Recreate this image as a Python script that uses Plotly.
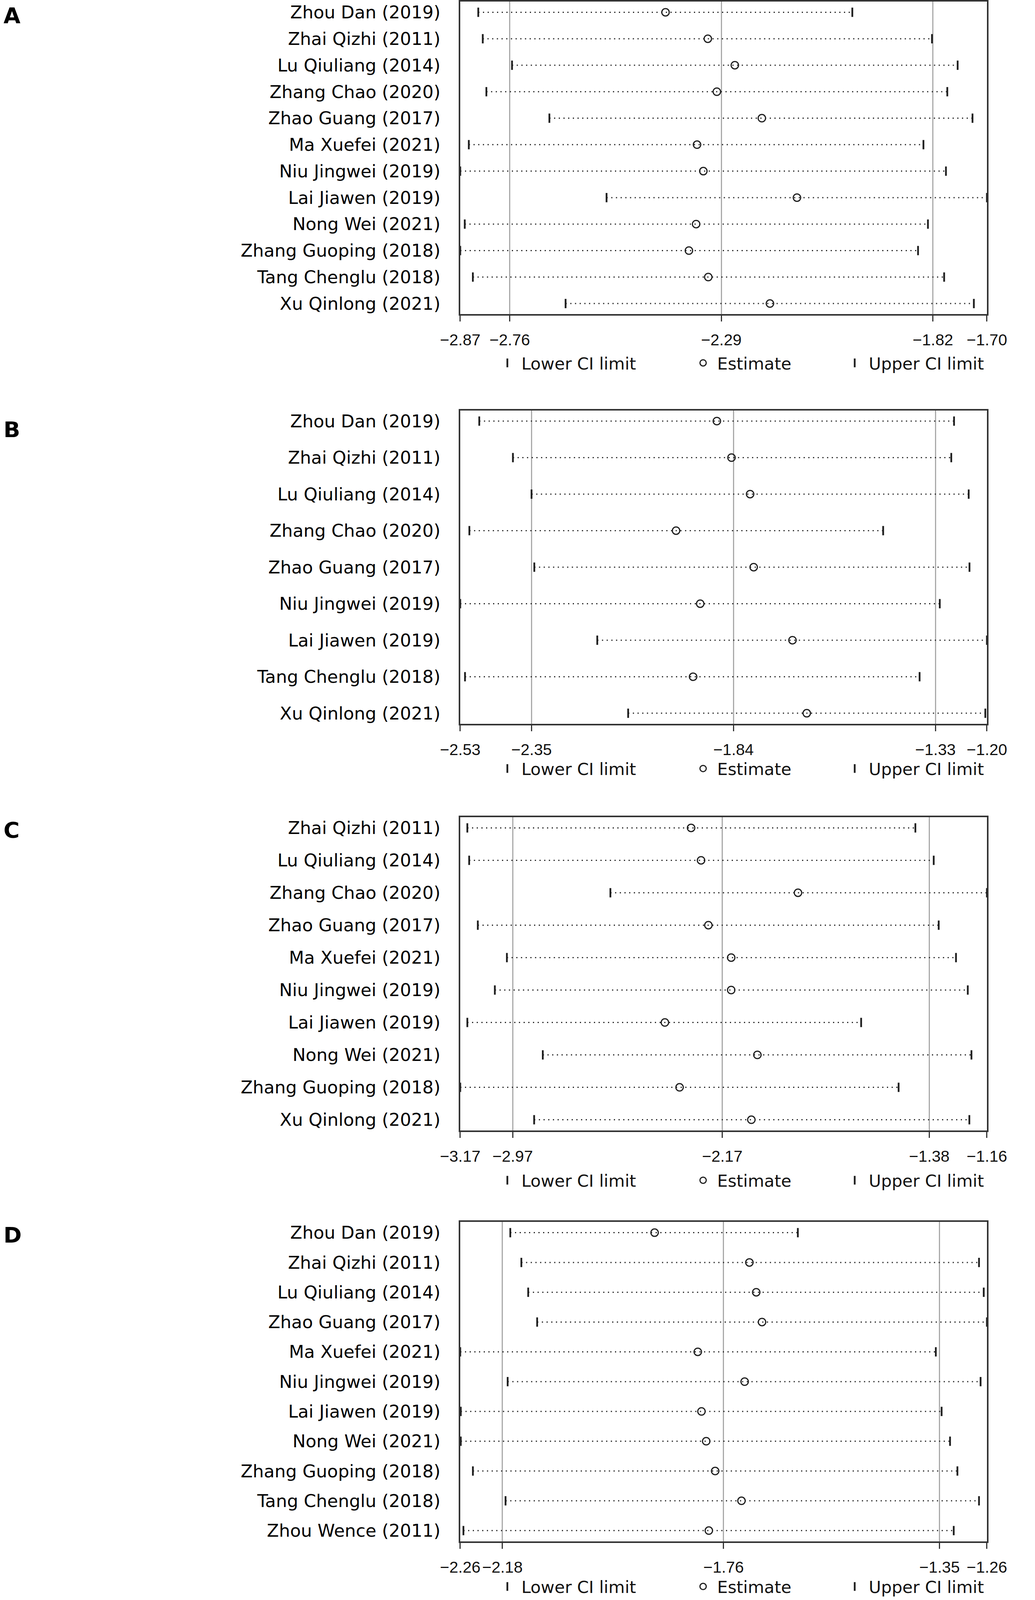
import plotly.graph_objects as go

W, H = 2649, 5522          # reference page size; all positions below are fractions of it
FONT = "DejaVu Sans"
TICK_FONT = "Liberation Sans"

# ---------------- data ----------------
a_studies = ["Zhou Dan (2019)", "Zhai Qizhi (2011)", "Lu Qiuliang (2014)", "Zhang Chao (2020)",
             "Zhao Guang (2017)", "Ma Xuefei (2021)", "Niu Jingwei (2019)", "Lai Jiawen (2019)",
             "Nong Wei (2021)", "Zhang Guoping (2018)", "Tang Chenglu (2018)", "Xu Qinlong (2021)"]
a_lower = [-2.830, -2.820, -2.755, -2.812, -2.672, -2.851, -2.870, -2.545, -2.860, -2.870, -2.842, -2.636]
a_est = [-2.414, -2.320, -2.260, -2.300, -2.200, -2.344, -2.330, -2.122, -2.346, -2.362, -2.319, -2.182]
a_upper = [-1.999, -1.822, -1.765, -1.788, -1.732, -1.841, -1.791, -1.700, -1.831, -1.853, -1.795, -1.729]
a_ticks = [-2.87, -2.76, -2.29, -1.82, -1.70]
a_ticktext = ["−2.87", "−2.76", "−2.29", "−1.82", "−1.70"]

b_studies = ["Zhou Dan (2019)", "Zhai Qizhi (2011)", "Lu Qiuliang (2014)", "Zhang Chao (2020)",
             "Zhao Guang (2017)", "Niu Jingwei (2019)", "Lai Jiawen (2019)", "Tang Chenglu (2018)",
             "Xu Qinlong (2021)"]
b_lower = [-2.482, -2.397, -2.350, -2.507, -2.343, -2.530, -2.184, -2.518, -2.106]
b_est = [-1.882, -1.845, -1.798, -1.985, -1.789, -1.924, -1.691, -1.942, -1.655]
b_upper = [-1.283, -1.290, -1.246, -1.462, -1.244, -1.319, -1.200, -1.370, -1.204]
b_ticks = [-2.53, -2.35, -1.84, -1.33, -1.20]
b_ticktext = ["−2.53", "−2.35", "−1.84", "−1.33", "−1.20"]

c_studies = ["Zhai Qizhi (2011)", "Lu Qiuliang (2014)", "Zhang Chao (2020)", "Zhao Guang (2017)",
             "Ma Xuefei (2021)", "Niu Jingwei (2019)", "Lai Jiawen (2019)", "Nong Wei (2021)",
             "Zhang Guoping (2018)", "Xu Qinlong (2021)"]
c_lower = [-3.143, -3.136, -2.597, -3.103, -2.992, -3.038, -3.143, -2.855, -3.170, -2.888]
c_est = [-2.289, -2.251, -1.881, -2.223, -2.136, -2.136, -2.389, -2.036, -2.333, -2.059]
c_upper = [-1.433, -1.363, -1.160, -1.344, -1.278, -1.233, -1.640, -1.219, -1.497, -1.227]
c_ticks = [-3.17, -2.97, -2.17, -1.38, -1.16]
c_ticktext = ["−3.17", "−2.97", "−2.17", "−1.38", "−1.16"]

d_studies = ["Zhou Dan (2019)", "Zhai Qizhi (2011)", "Lu Qiuliang (2014)", "Zhao Guang (2017)",
             "Ma Xuefei (2021)", "Niu Jingwei (2019)", "Lai Jiawen (2019)", "Nong Wei (2021)",
             "Zhang Guoping (2018)", "Tang Chenglu (2018)", "Zhou Wence (2011)"]
d_lower = [-2.165, -2.144, -2.131, -2.114, -2.260, -2.170, -2.259, -2.259, -2.236, -2.174, -2.254]
d_est = [-1.891, -1.711, -1.698, -1.687, -1.809, -1.720, -1.802, -1.793, -1.776, -1.726, -1.788]
d_upper = [-1.619, -1.275, -1.266, -1.260, -1.357, -1.272, -1.346, -1.330, -1.316, -1.275, -1.323]
d_ticks = [-2.26, -2.18, -1.76, -1.35, -1.26]
d_ticktext = ["−2.26", "−2.18", "−1.76", "−1.35", "−1.26"]

panel_letters = ["A", "B", "C", "D"]
legend_names = ["Lower CI limit", "Estimate", "Upper CI limit"]

panels = [
    (a_studies, a_lower, a_est, a_upper, a_ticks, a_ticktext),
    (b_studies, b_lower, b_est, b_upper, b_ticks, b_ticktext),
    (c_studies, c_lower, c_est, c_upper, c_ticks, c_ticktext),
    (d_studies, d_lower, d_est, d_upper, d_ticks, d_ticktext),
]

# ---------------- layout geometry (in reference page pixels) ----------------
boxes = [(4, 1084), (1416, 2499), (2821, 3903), (4219, 5322)]
legend_y = [1252, 2653, 4075, 5478]
letter_top = [6, 1436, 2818, 4218]
X0, X1 = 1172, 2575
EDGE_PAD = 37

INK = "#1e1e1e"

fig = go.Figure()
layout = dict(autosize=True, margin=dict(l=0, r=0, t=0, b=0),
              paper_bgcolor="white", plot_bgcolor="white",
              font=dict(family=FONT, color="#000"), annotations=[])

for i, (studies, lower, est, upper, ticks, ticktext) in enumerate(panels):
    n = len(studies)
    top, bot = boxes[i]
    step = (bot - top - 2 * EDGE_PAD) / (n - 1)
    pad = EDGE_PAD / step
    sfx = "" if i == 0 else str(i + 1)
    lg = "legend" if i == 0 else f"legend{i + 1}"

    xs, ys = [], []
    for s, lo, up in zip(studies, lower, upper):
        xs += [lo, up, None]
        ys += [s, s, None]
    fig.add_trace(go.Scatter(x=xs, y=ys, mode="lines", xaxis="x" + sfx, yaxis="y" + sfx,
                             line=dict(color="#222222", width=3, dash="3px,9px"),
                             showlegend=False, hoverinfo="skip", cliponaxis=False))
    fig.add_trace(go.Scatter(x=lower, y=studies, mode="markers", name=legend_names[0],
                             xaxis="x" + sfx, yaxis="y" + sfx, legend=lg, legendwidth=424,
                             marker=dict(symbol="line-ns", size=17, color=INK,
                                         line=dict(width=4.5, color=INK)),
                             cliponaxis=False))
    fig.add_trace(go.Scatter(x=est, y=studies, mode="markers", name=legend_names[1],
                             xaxis="x" + sfx, yaxis="y" + sfx, legend=lg, legendwidth=311,
                             marker=dict(symbol="circle-open", size=19, color=INK,
                                         line=dict(width=3, color=INK)),
                             cliponaxis=False))
    fig.add_trace(go.Scatter(x=upper, y=studies, mode="markers", name=legend_names[2],
                             xaxis="x" + sfx, yaxis="y" + sfx, legend=lg,
                             marker=dict(symbol="line-ns", size=17, color=INK,
                                         line=dict(width=4.5, color=INK)),
                             cliponaxis=False))

    layout["xaxis" + sfx] = dict(
        domain=[X0 / W, X1 / W], range=[ticks[0], ticks[-1]], anchor="y" + sfx,
        tickmode="array", tickvals=ticks, ticktext=ticktext, tickangle=0,
        showgrid=True, gridcolor="#a9a9a9", gridwidth=2.5, zeroline=False,
        showline=True, linecolor="#333", linewidth=3.5, mirror=True,
        ticks="outside", ticklen=15, tickwidth=3, tickcolor="#333",
        tickfont=dict(size=41, color="#111", family=TICK_FONT), ticklabelstandoff=12)
    layout["yaxis" + sfx] = dict(
        domain=[1 - bot / H, 1 - top / H], anchor="x" + sfx, type="category",
        categoryorder="array", categoryarray=studies, range=[n - 1 + pad, -pad],
        showgrid=False, zeroline=False, showline=True, linecolor="#333", linewidth=3.5,
        mirror=True, ticks="", tickfont=dict(size=45, color="#000", family=FONT),
        ticklabelstandoff=38)
    layout[lg] = dict(orientation="h", x=1260 / W, xanchor="left",
                      y=1 - legend_y[i] / H, yanchor="middle", itemwidth=62,
                      bgcolor="rgba(0,0,0,0)", font=dict(size=43, color="#111", family=FONT))
    layout["annotations"].append(dict(
        text="<b>" + panel_letters[i] + "</b>", xref="paper", yref="paper",
        x=0, xanchor="left", xshift=-45, y=1 - letter_top[i] / H, yanchor="top",
        showarrow=False, font=dict(size=56, color="#000", family=FONT)))

fig.update_layout(**layout)
fig.write_html(
    "out.html",
    default_width="100vw",
    default_height="100vh",
    config={"displayModeBar": False},
    post_script="document.body.style.margin='0px';document.body.style.overflow='hidden';"
                "Plotly.Plots.resize(document.getElementById('{plot_id}'));",
)
